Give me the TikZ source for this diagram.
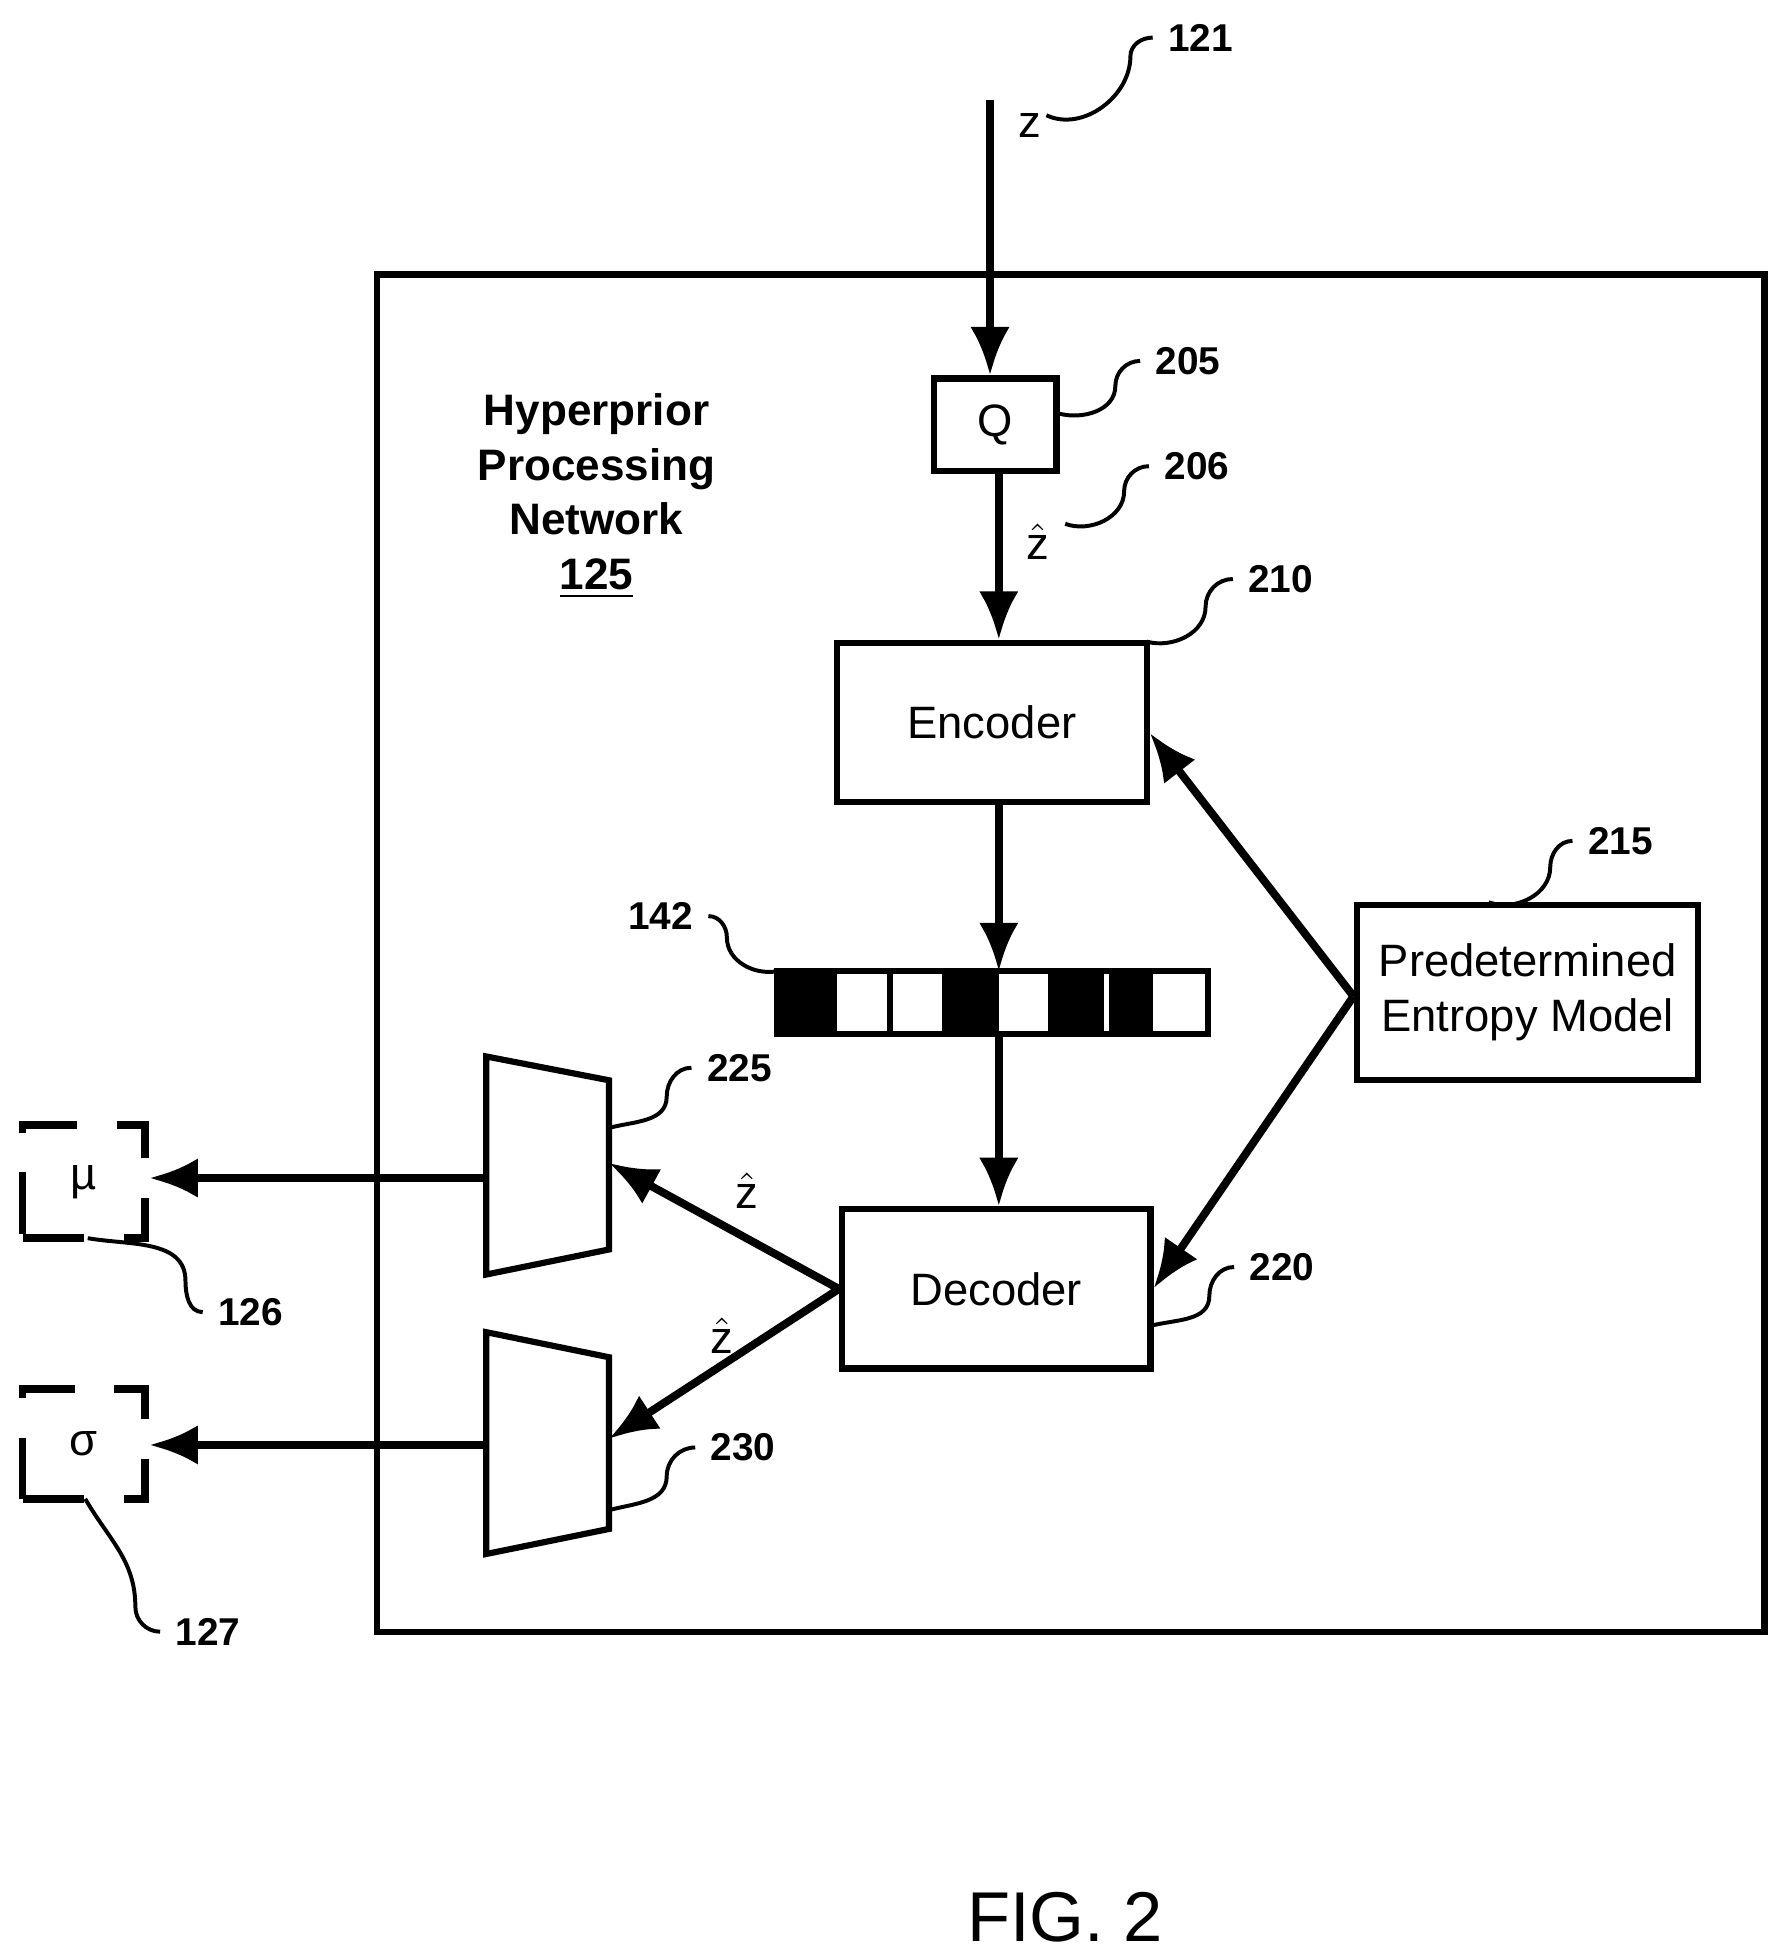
\documentclass[tikz,border=0pt]{standalone}
\usepackage{fontspec}
\setmainfont{Liberation Sans}
\usetikzlibrary{arrows.meta}
\begin{document}
\begin{tikzpicture}[x=0.01cm,y=-0.01cm,
    box/.style={draw, line width=1.4pt, inner sep=0pt},
    flow/.style={line width=1.8pt, -{Latex[length=11pt,width=9pt]}},
    ref/.style={font=\bfseries\fontsize{8.8}{10}\selectfont},
    lead/.style={line width=0.9pt},
    txt/.style={font=\fontsize{10.3}{12.5}\selectfont},
    outbox/.style={draw, dash pattern=on 14pt off 9pt, line width=1.8pt, txt}]
    \useasboundingbox (0,0) rectangle (1420,1560);
    % outer frame
    \draw[line width=1.4pt] (301,219) rectangle (1408,1302);
    \node[font=\bfseries\fontsize{10}{12.4}\selectfont, align=center] (title) at (476,396)
        {Hyperprior\\Processing\\Network\\\underline{125}};
    % blocks
    \node[box, minimum width=0.98cm, minimum height=0.74cm, txt] (q) at (794,339) {Q};
    \node[box, minimum width=2.47cm, minimum height=1.27cm, txt] (enc) at (791.5,576.5) {Encoder};
    \node[box, minimum width=2.46cm, minimum height=1.27cm, txt] (dec) at (795,1028.5) {Decoder};
    \node[box, minimum width=2.72cm, minimum height=1.40cm, txt, align=center] (pem) at (1219,792)
        {Predetermined\\Entropy Model};
    \coordinate (zin) at (790,80);
    \coordinate (pemout) at (1080,795);
    % bitstream
    \draw[line width=1.4pt] (620,775) rectangle (964,825);
    \foreach \a/\b in {620/668, 752/797, 836/881, 885/920}
        \fill (\a,775) rectangle (\b,825);
    \draw[line width=1.4pt] (710,775) -- (710,825);
    \coordinate (bstop) at (797,775);
    \coordinate (bsbot) at (797,825);
    % trapezoids
    \draw[line width=1.4pt] (388,843) -- (486,862) -- (486,997) -- (388,1017) -- cycle;
    \draw[line width=1.4pt] (388,1063) -- (486,1083) -- (486,1220) -- (388,1240) -- cycle;
    \coordinate (muin) at (486,928);
    \coordinate (sgin) at (486,1148);
    \coordinate (muout) at (388,940);
    \coordinate (sgout) at (388,1153);
    % outputs
    \node[outbox, minimum width=0.98cm, minimum height=0.90cm] (mu) at (67,943) {µ};
    \node[outbox, minimum width=0.98cm, minimum height=0.88cm] (sg) at (67,1152) {σ};
    % connectors
    \draw[flow] (zin) -- (q.north -| zin);
    \draw[flow] (q.south -| 797,0) -- (enc.north -| 797,0);
    \draw[flow] (enc.south -| bstop) -- (bstop);
    \draw[flow] (bsbot) -- (dec.north -| bsbot);
    \draw[flow] (pemout) -- (enc.east |- 0,585);
    \draw[flow] (pemout) -- (dec.east |- 0,1028);
    \draw[flow] (dec.west) -- (muin);
    \draw[flow] (dec.west) -- (sgin);
    \draw[flow] (muout) -- (mu.east |- muout);
    \draw[flow] (sgout) -- (sg.east |- sgout);
    % signal labels
    \node[txt] (zlab) at (822,100) {z};
    \node[txt] (zh1) at (828,432) {$\hat{\mathrm{z}}$};
    \node[txt] (zh2) at (596,950) {$\hat{\mathrm{z}}$};
    \node[txt] (zh3) at (576,1066) {$\hat{\mathrm{z}}$};
    % reference numerals
    \node[ref] (r121) at (958,30) {121};
    \node[ref] (r205) at (948,288) {205};
    \node[ref] (r206) at (955,372) {206};
    \node[ref] (r210) at (1022,462) {210};
    \node[ref] (r215) at (1293,671) {215};
    \node[ref] (r142) at (527,731) {142};
    \node[ref] (r220) at (1023,1011) {220};
    \node[ref] (r225) at (590,852) {225};
    \node[ref] (r230) at (593,1155) {230};
    \node[ref] (r126) at (200,1047) {126};
    \node[ref] (r127) at (166,1302) {127};
    % leaders
    \draw[lead] (835,92) to[out=-25,in=-90] (902,45) to[out=90,in=180] (r121.west);
    \draw[lead] (845,330) to[out=-15,in=-90] (890,308) to[out=90,in=180] (r205.west);
    \draw[lead] (850,418) to[out=-20,in=-90] (897,392) to[out=90,in=180] (r206.west);
    \draw[lead] (915,512) to[out=-15,in=-90] (962,484) to[out=90,in=180] (r210.west);
    \draw[lead] (1188,720) to[out=-20,in=-90] (1237,692) to[out=90,in=180] (r215.west);
    \draw[lead] (620,775) to[out=190,in=-90] (580,748) to[out=90,in=0] (r142.east);
    \draw[lead] (918,1058) to[out=15,in=-90] (965,1034) to[out=90,in=180] (r220.west);
    \draw[lead] (486,900) to[out=15,in=-90] (532,875) to[out=90,in=180] (r225.west);
    \draw[lead] (486,1205) to[out=15,in=-90] (532,1178) to[out=90,in=180] (r230.west);
    \draw[lead] (70,988) to[out=-10,in=90] (148,1022) to[out=-90,in=180] (r126.west);
    \draw[lead] (68,1196) to[out=-60,in=90] (108,1282) to[out=-90,in=180] (r127.west);
    \node[font=\fontsize{16}{19}\selectfont] (fig) at (850,1530) {FIG. 2};
\end{tikzpicture}
\end{document}
